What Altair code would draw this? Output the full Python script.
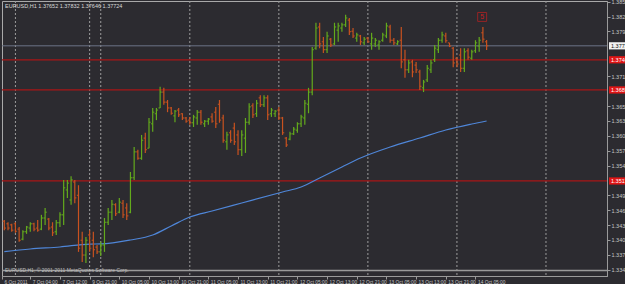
import altair as alt
import pandas as pd

header = "EURUSD,H1  1.37652 1.37832 1.37646 1.37724"
footer = "EURUSD,H1, \u00a9 2001-2011 MetaQuotes Software Corp."

opens = [1.3441, 1.3436, 1.3434, 1.3436, 1.3426, 1.3407, 1.3421, 1.3428, 1.3436, 1.3428,
         1.3426, 1.3447, 1.3445, 1.3430, 1.3421, 1.3438, 1.3453, 1.3500, 1.3481, 1.3515,
         1.3490, 1.3405, 1.3377, 1.3415, 1.3405, 1.3392, 1.3383, 1.3396, 1.3439, 1.3458,
         1.3472, 1.3458, 1.3475, 1.3466, 1.3458, 1.3523, 1.3572, 1.3560, 1.3598, 1.3579,
         1.3625, 1.3644, 1.3655, 1.3685, 1.3666, 1.3655, 1.3640, 1.3651, 1.3644, 1.3636,
         1.3632, 1.3627, 1.3636, 1.3647, 1.3625, 1.3630, 1.3638, 1.3647, 1.3662, 1.3636,
         1.3591, 1.3608, 1.3617, 1.3604, 1.3576, 1.3598, 1.3628, 1.3659, 1.3644, 1.3674,
         1.3661, 1.3674, 1.3644, 1.3644, 1.3651, 1.3636, 1.3598, 1.3596, 1.3606, 1.3613,
         1.3625, 1.3636, 1.3662, 1.3685, 1.3768, 1.3808, 1.3780, 1.3765, 1.3785, 1.3776,
         1.3802, 1.3806, 1.3812, 1.3821, 1.3800, 1.3787, 1.3791, 1.3778, 1.3787, 1.3776,
         1.3776, 1.3774, 1.3783, 1.3791, 1.3808, 1.3783, 1.3776, 1.3783, 1.3746, 1.3727,
         1.3742, 1.3736, 1.3723, 1.3693, 1.3708, 1.3727, 1.3746, 1.3765, 1.3783, 1.3791,
         1.3778, 1.3768, 1.3749, 1.3755, 1.3730, 1.3763, 1.3749, 1.3763, 1.3772, 1.3797,
         1.3780]
highs = [1.3443, 1.3439, 1.3436, 1.3439, 1.3430, 1.3424, 1.3432, 1.3439, 1.3438, 1.3443,
         1.3453, 1.3466, 1.3447, 1.3439, 1.3443, 1.3458, 1.3519, 1.3519, 1.3526, 1.3519,
         1.3509, 1.3421, 1.3411, 1.3424, 1.3421, 1.3396, 1.3402, 1.3447, 1.3466, 1.3481,
         1.3475, 1.3485, 1.3481, 1.3475, 1.3534, 1.3581, 1.3576, 1.3604, 1.3608, 1.3636,
         1.3655, 1.3655, 1.3695, 1.3693, 1.3670, 1.3657, 1.3651, 1.3655, 1.3645, 1.3638,
         1.3638, 1.3642, 1.3651, 1.3651, 1.3632, 1.3636, 1.3645, 1.3657, 1.3670, 1.3642,
         1.3610, 1.3613, 1.3627, 1.3613, 1.3613, 1.3636, 1.3664, 1.3664, 1.3670, 1.3679,
         1.3679, 1.3679, 1.3655, 1.3651, 1.3657, 1.3638, 1.3600, 1.3610, 1.3619, 1.3628,
         1.3642, 1.3670, 1.3693, 1.3770, 1.3816, 1.3816, 1.3789, 1.3799, 1.3787, 1.3816,
         1.3816, 1.3816, 1.3831, 1.3825, 1.3806, 1.3797, 1.3793, 1.3789, 1.3789, 1.3797,
         1.3787, 1.3783, 1.3797, 1.3816, 1.3812, 1.3787, 1.3783, 1.3808, 1.3765, 1.3746,
         1.3746, 1.3742, 1.3727, 1.3708, 1.3736, 1.3746, 1.3774, 1.3787, 1.3799, 1.3797,
         1.3778, 1.3770, 1.3751, 1.3768, 1.3768, 1.3768, 1.3765, 1.3783, 1.3789, 1.3808,
         1.37832]
lows = [1.3424, 1.3424, 1.3421, 1.3419, 1.3402, 1.3405, 1.3417, 1.3421, 1.3422, 1.3421,
        1.3424, 1.3434, 1.3424, 1.3413, 1.3415, 1.3430, 1.3434, 1.3485, 1.3472, 1.3475,
        1.3383, 1.3364, 1.3362, 1.3383, 1.3373, 1.3379, 1.3375, 1.3383, 1.3434, 1.3443,
        1.3451, 1.3456, 1.3447, 1.3443, 1.3456, 1.3519, 1.3557, 1.3557, 1.3570, 1.3579,
        1.3610, 1.3632, 1.3655, 1.3661, 1.3647, 1.3642, 1.3628, 1.3638, 1.3632, 1.3627,
        1.3623, 1.3619, 1.3623, 1.3623, 1.3619, 1.3623, 1.3627, 1.3617, 1.3627, 1.3589,
        1.3576, 1.3589, 1.3585, 1.3566, 1.3564, 1.3570, 1.3623, 1.3636, 1.3638, 1.3657,
        1.3657, 1.3632, 1.3638, 1.3638, 1.3632, 1.3604, 1.3581, 1.3594, 1.3604, 1.3608,
        1.3619, 1.3623, 1.3645, 1.3679, 1.3765, 1.3768, 1.3759, 1.3759, 1.3770, 1.3774,
        1.3780, 1.3799, 1.3808, 1.3793, 1.3787, 1.3780, 1.3774, 1.3774, 1.3778, 1.3765,
        1.3770, 1.3765, 1.3780, 1.3787, 1.3778, 1.3774, 1.3774, 1.3730, 1.3712, 1.3721,
        1.3713, 1.3721, 1.3689, 1.3685, 1.3704, 1.3721, 1.3742, 1.3759, 1.3778, 1.3778,
        1.3770, 1.3732, 1.3732, 1.3723, 1.3723, 1.3746, 1.3746, 1.3759, 1.3761, 1.3778,
        1.37646]
closes = [1.3428, 1.3428, 1.3424, 1.3422, 1.3405, 1.3421, 1.3430, 1.3436, 1.3426, 1.3424,
          1.3447, 1.3458, 1.3428, 1.3419, 1.3438, 1.3453, 1.3504, 1.3513, 1.3519, 1.3485,
          1.3390, 1.3377, 1.3405, 1.3390, 1.3387, 1.3383, 1.3396, 1.3439, 1.3458, 1.3473,
          1.3455, 1.3477, 1.3453, 1.3451, 1.3523, 1.3572, 1.3560, 1.3594, 1.3576, 1.3628,
          1.3647, 1.3651, 1.3685, 1.3666, 1.3655, 1.3645, 1.3649, 1.3642, 1.3636, 1.3630,
          1.3627, 1.3638, 1.3647, 1.3628, 1.3630, 1.3634, 1.3630, 1.3625, 1.3632, 1.3594,
          1.3604, 1.3594, 1.3591, 1.3576, 1.3604, 1.3628, 1.3657, 1.3642, 1.3664, 1.3661,
          1.3674, 1.3642, 1.3651, 1.3649, 1.3636, 1.3608, 1.3585, 1.3606, 1.3615, 1.3625,
          1.3638, 1.3664, 1.3685, 1.3765, 1.3806, 1.3776, 1.3765, 1.3791, 1.3774, 1.3808,
          1.3810, 1.3812, 1.3825, 1.3799, 1.3791, 1.3793, 1.3780, 1.3785, 1.3780, 1.3787,
          1.3783, 1.3780, 1.3793, 1.3810, 1.3783, 1.3778, 1.3780, 1.3742, 1.3727, 1.3740,
          1.3723, 1.3727, 1.3696, 1.3704, 1.3730, 1.3740, 1.3768, 1.3783, 1.3793, 1.3782,
          1.3772, 1.3740, 1.3738, 1.3730, 1.3761, 1.3751, 1.3761, 1.3778, 1.3783, 1.3785,
          1.37724]

# moving average (read at sample bars)
ma_bar = [0, 7, 15, 23, 26, 34, 40, 45, 50, 56, 64, 75, 80, 85, 91, 96, 104, 112, 119, 126, 130]
ma_val = [1.33833, 1.33884, 1.33922, 1.33978, 1.33980, 1.34054, 1.34149, 1.34319, 1.34489, 1.34602,
          1.34753, 1.34961, 1.35056, 1.35226, 1.35434, 1.35604, 1.35812, 1.35982, 1.36133, 1.36246,
          1.36303]

levels = [1.3746, 1.3689, 1.3517]
level_labels = ["1.37460", "1.36890", "1.35170"]
current_price = 1.37724
current_label = "1.37724"
window_floor = 1.33480

separators = [3, 23, 26, 50, 74, 98, 122, 146]

xtick_bars = [-0.6, 7, 15, 23, 31, 39, 47, 55, 63, 71, 79, 87, 95, 103, 111, 119, 127]
xtick_labels = ["6 Oct 2011", "7 Oct 04:00", "7 Oct 12:00", "9 Oct 21:00", "10 Oct 05:00",
                "10 Oct 13:00", "10 Oct 21:00", "11 Oct 05:00", "11 Oct 13:00", "11 Oct 21:00",
                "12 Oct 05:00", "12 Oct 13:00", "12 Oct 21:00", "13 Oct 05:00", "13 Oct 13:00",
                "13 Oct 21:00", "14 Oct 05:00"]
ytick_vals = [1.33490, 1.33775, 1.34055, 1.34335, 1.34615, 1.34900, 1.35460, 1.35745,
              1.36020, 1.36305, 1.36585, 1.37145, 1.37995, 1.38275, 1.38555]

wave_bar = [128.8]
wave_price = [1.3827]
wave_text = ["5"]

GREEN = "#63aa1c"
ORANGE = "#c9521f"
RED = "#a81616"
BG = "#2c2b30"
AXC = "#c6c6c6"
FONT = "Liberation Sans"

bars = pd.DataFrame({"i": list(range(len(opens))), "open": opens, "high": highs,
                     "low": lows, "close": closes})
bars["dir"] = ["up" if c >= o else "down" for o, c in zip(opens, closes)]

XS = alt.Scale(domain=[-0.62, 162.45], nice=False, zero=False)
YS = alt.Scale(domain=[1.33374, 1.38571], nice=False, zero=False)

lab_arr = "[" + ",".join("'%s'" % t for t in xtick_labels) + "]"
val_arr = "[" + ",".join(str(v) for v in xtick_bars) + "]"
x_axis = alt.Axis(orient="bottom", values=xtick_bars, labelExpr=f"{lab_arr}[indexof({val_arr}, datum.value)]",
                  labelAlign="left", labelOffset=2, labelFontSize=4.8, labelColor=AXC, labelFont=FONT,
                  tickColor="#9a9a9a", tickSize=3, labelPadding=0, grid=False, labelOverlap=False,
                  labelFlush=False, domainColor="#9a9a9a", title=None)
y_axis = alt.Axis(orient="right", values=ytick_vals, format=".5f", labelFontSize=5.5, labelColor=AXC,
                  labelFont=FONT, tickColor="#9a9a9a", tickSize=3, labelPadding=1, grid=False,
                  domainColor="#9a9a9a", labelOverlap=False, labelFlush=False, title=None)


def X(f):
    return alt.X(f, type="quantitative", scale=XS, axis=x_axis, title=None)


def Y(f):
    return alt.Y(f, type="quantitative", scale=YS, axis=y_axis, title=None)


col = alt.Color("dir:N", scale=alt.Scale(domain=["up", "down"], range=[GREEN, ORANGE]), legend=None)

sep_layer = alt.Chart(pd.DataFrame({"i": separators})).mark_rule(
    color="#9c9c9c", strokeDash=[2, 2], strokeWidth=1).encode(x=X("i"))

floor_layer = alt.Chart(pd.DataFrame({"price": [window_floor]})).mark_rule(
    color="#9a9a9a", strokeWidth=1.5).encode(y=Y("price"))

lvl_df = pd.DataFrame({"price": levels, "label": level_labels})
lvl_layer = alt.Chart(lvl_df).mark_rule(color=RED, strokeWidth=1.3).encode(y=Y("price"))

cur_df = pd.DataFrame({"price": [current_price], "label": [current_label]})
cur_layer = alt.Chart(cur_df).mark_rule(color="#6c7486", strokeWidth=1).encode(y=Y("price"))

ma_layer = alt.Chart(pd.DataFrame({"i": ma_bar, "ma": ma_val})).mark_line(
    color="#4f86d8", strokeWidth=1.2, interpolate="monotone").encode(x=X("i"), y=Y("ma"))

hl_layer = alt.Chart(bars).mark_rule(strokeWidth=1.2).encode(
    x=X("i"), y=Y("low"), y2=alt.Y2("high"), color=col)
open_layer = alt.Chart(bars).transform_calculate(xl="datum.i - 0.45").mark_rule(strokeWidth=1).encode(
    x=X("xl"), x2=alt.X2("i"), y=Y("open"), color=col)
close_layer = alt.Chart(bars).transform_calculate(xr="datum.i + 0.45").mark_rule(strokeWidth=1).encode(
    x=X("i"), x2=alt.X2("xr"), y=Y("close"), color=col)

tags = pd.DataFrame({"price": levels + [current_price],
                     "label": level_labels + [current_label],
                     "fill": ["#e01515"] * len(levels) + ["#f2f2f2"],
                     "tc": ["#ffffff"] * len(levels) + ["#111111"]})
tag_rect = alt.Chart(tags).transform_calculate(
    top="datum.price + 0.00068", bot="datum.price - 0.00068").mark_rect().encode(
    x=alt.value(607), x2=alt.value(626), y=Y("top"), y2=alt.Y2("bot"),
    color=alt.Color("fill:N", scale=None))
tag_text = alt.Chart(tags).mark_text(align="left", baseline="middle", fontSize=5.5, font=FONT).encode(
    x=alt.value(609), y=Y("price"), text="label:N", color=alt.Color("tc:N", scale=None))

wave_df = pd.DataFrame({"i": wave_bar, "price": wave_price, "t": wave_text})
wave_box = alt.Chart(wave_df).mark_point(shape="square", filled=False, color="#c42020", size=80,
                                         strokeWidth=1).encode(x=X("i"), y=Y("price"))
wave_txt = alt.Chart(wave_df).mark_text(color="#c42020", fontSize=7, font=FONT, baseline="middle").encode(
    x=X("i"), y=Y("price"), text="t:N")

head_layer = alt.Chart(pd.DataFrame({"t": [header]})).mark_text(
    align="left", baseline="middle", fontSize=5.5, font=FONT, color="#d8d8d8").encode(
    x=alt.value(3), y=alt.value(5), text="t:N")
foot_layer = alt.Chart(pd.DataFrame({"t": [footer]})).mark_text(
    align="left", baseline="middle", fontSize=5, font=FONT, color="#bdbdbd").encode(
    x=alt.value(3), y=alt.value(269), text="t:N")

chart = alt.layer(
    sep_layer, floor_layer, lvl_layer, cur_layer, ma_layer, hl_layer, open_layer, close_layer,
    tag_rect, tag_text, wave_box, wave_txt, head_layer, foot_layer
).properties(
    width=605, height=275,
    autosize=alt.AutoSizeParams(type="none"),
    padding={"left": 2, "top": 1, "right": 18, "bottom": 8},
).configure(background=BG).configure_view(stroke="#a9a9a9", strokeWidth=1)

chart.save("out.html", embed_options={"renderer": "svg", "actions": False})
